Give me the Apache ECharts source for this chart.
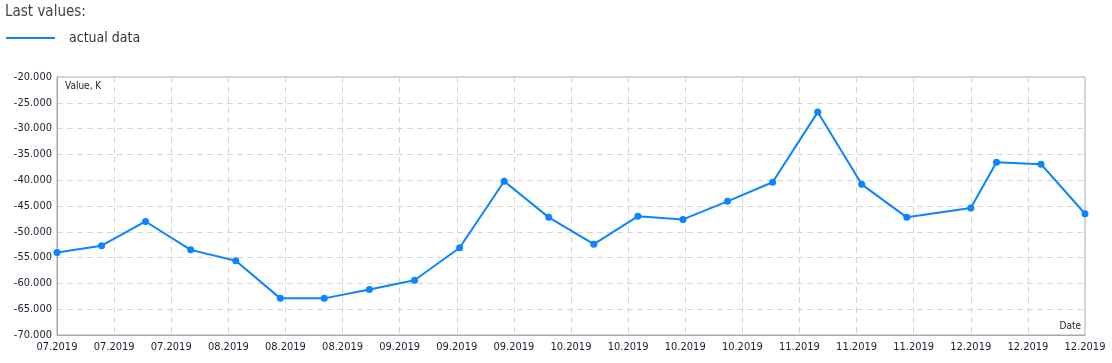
<!DOCTYPE html>
<html>
<head>
<meta charset="utf-8">
<script src="https://cdn.jsdelivr.net/npm/echarts@6/dist/echarts.min.js"></script>
<style>
html,body{margin:0;padding:0;background:#fff;}
#c{width:1112px;height:363px;}
</style>
</head>
<body>
<div id="c"></div>
<script>
// Tick labels of the x axis (one per vertical grid line)
const tickLabels = ['07.2019','07.2019','07.2019','08.2019','08.2019','08.2019','09.2019','09.2019','09.2019',
  '10.2019','10.2019','10.2019','10.2019','11.2019','11.2019','11.2019','12.2019','12.2019','12.2019'];
// Positions of observations, in tick units along the date axis
const xPos = [0, 0.78, 1.55, 2.34, 3.13, 3.91, 4.68, 5.47, 6.26, 7.05, 7.83, 8.61,
  9.40, 10.17, 10.96, 11.74, 12.53, 13.32, 14.09, 14.88, 16.00, 16.45, 17.23, 18];
// Series values (K)
const actualData = [-54.0, -52.7, -48.0, -53.5, -55.6, -62.9, -62.9, -61.2, -59.4, -53.1, -40.2, -47.2,
  -52.4, -47.0, -47.6, -44.1, -40.4, -26.8, -40.8, -47.2, -45.4, -36.5, -36.9, -46.5];
const seriesName = 'actual data';

const FONT = 'Tahoma, "DejaVu Sans Condensed", "Liberation Sans", sans-serif';
const chart = echarts.init(document.getElementById('c'));
chart.setOption({
  animation: false,
  backgroundColor: '#fff',
  textStyle: { fontFamily: FONT },
  title: {
    text: 'Last values:', left: 0, top: 0,
    textStyle: { fontSize: 15, fontWeight: 'normal', color: '#444', fontFamily: FONT }
  },
  legend: {
    left: 1, top: 26,
    icon: 'rect', itemWidth: 49, itemHeight: 2,
    data: [seriesName],
    textStyle: { fontSize: 14, color: '#333', padding: [0, 0, 0, 9], fontFamily: FONT }
  },
  grid: {
    left: 57, right: 27, top: 77, bottom: 28,
    show: true, borderColor: '#a8a8a8', borderWidth: 1
  },
  xAxis: {
    type: 'value', min: 0, max: 18, interval: 1,
    axisLine: { show: true, lineStyle: { color: '#a8a8a8', width: 1 } },
    axisTick: { show: false },
    axisLabel: {
      margin: 7, fontSize: 11, color: '#1c1c30', fontFamily: FONT,
      formatter: v => tickLabels[Math.round(v)] || ''
    },
    splitLine: { show: true, lineStyle: { color: '#d6d6d6', type: [6, 4] } }
  },
  yAxis: {
    type: 'value', min: -70, max: -20, interval: 5,
    axisLine: { show: true, lineStyle: { color: '#a8a8a8', width: 1 } },
    axisTick: { show: false },
    axisLabel: {
      margin: 5, fontSize: 11, color: '#1c1c30', fontFamily: FONT,
      formatter: v => v.toFixed(3)
    },
    splitLine: { show: true, lineStyle: { color: '#d6d6d6', type: [6, 4] } }
  },
  graphic: [
    { type: 'text', left: 65, top: 81, style: { text: 'Value, K', fontSize: 10, fill: '#222', fontFamily: FONT } },
    { type: 'text', right: 31, top: 321, style: { text: 'Date', fontSize: 10, fill: '#222', fontFamily: FONT } }
  ],
  series: [{
    name: seriesName,
    type: 'line',
    data: xPos.map((x, i) => [x, actualData[i]]),
    symbol: 'circle', symbolSize: 7,
    color: '#0a84ff',
    lineStyle: { width: 2, color: '#0a84ff' },
    itemStyle: { color: '#0a84ff' },
    clip: true
  }]
});
</script>
</body>
</html>
